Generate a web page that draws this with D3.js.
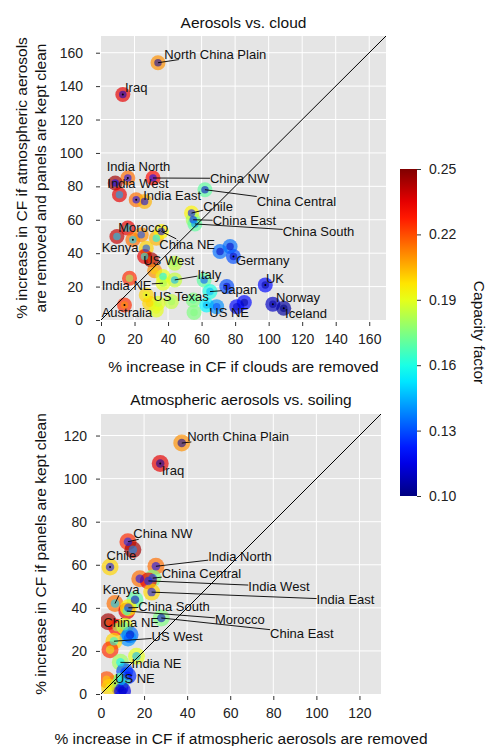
<!DOCTYPE html>
<html>
<head>
<meta charset="utf-8">
<script src="https://cdn.jsdelivr.net/npm/d3@7"></script>
<style>
  body { margin: 0; background: #fff; }
  svg { font-family: "Liberation Sans", Arial, Helvetica, sans-serif; }
</style>
</head>
<body>
<svg id="chart" width="490" height="746"></svg>
<script>
// points: [name, x, y, outer CF, inner CF]
const cloudPts = [
  ["North China Plain", 34, 154, 0.21, 0.105],
  ["Iraq", 13, 135, 0.235, 0.11],
  ["India North", 16, 85, 0.215, 0.12],
  ["China NW", 31, 85, 0.23, 0.12],
  ["India West", 8.5, 82, 0.245, 0.12],
  ["", 11, 75, 0.235, 0.145],
  ["India East", 21, 72, 0.215, 0.12],
  ["", 26, 71, 0.205, 0.115],
  ["China Central", 62, 78, 0.17, 0.11],
  ["Chile", 54, 64, 0.195, 0.12],
  ["China East", 55, 60, 0.18, 0.12],
  ["China South", 56, 57.5, 0.17, 0.14],
  ["Morocco", 16, 55, 0.235, 0.155],
  ["", 9.5, 50, 0.24, 0.15],
  ["Kenya", 19, 48, 0.215, 0.15],
  ["", 24, 51, 0.21, 0.13],
  ["", 33, 49, 0.205, 0.155],
  ["China NE", 36, 53, 0.195, 0.115],
  ["", 27, 43, 0.2, 0.13],
  ["", 26, 38, 0.235, 0.16],
  ["US West", 30, 36, 0.245, 0.22],
  ["", 44, 34, 0.185, 0.18],
  ["", 32, 29.5, 0.21, 0.2],
  ["", 37, 26, 0.19, 0.155],
  ["Italy", 44, 24, 0.185, 0.145],
  ["India NE", 37, 22, 0.19, 0.18],
  ["", 17, 25, 0.225, 0.18],
  ["", 61.5, 24, 0.17, 0.13],
  ["Japan", 65, 17, 0.16, 0.145],
  ["", 75, 20, 0.13, 0.11],
  ["", 85.5, 10.5, 0.12, 0.105],
  ["", 81, 8, 0.12, 0.11],
  ["US NE", 63, 9, 0.155, 0.145],
  ["", 69, 8, 0.14, 0.13],
  ["UK", 98, 21, 0.12, 0.105],
  ["Norway", 102.5, 9.5, 0.11, 0.105],
  ["Iceland", 109, 7, 0.105, 0.10],
  ["", 71, 41, 0.135, 0.11],
  ["", 77, 44, 0.135, 0.11],
  ["Germany", 79, 38, 0.13, 0.11],
  ["US Texas", 27, 15, 0.2, 0.19],
  ["", 29, 10, 0.2, 0.2],
  ["", 34, 10, 0.19, 0.185],
  ["", 42, 11, 0.185, 0.18],
  ["", 55, 12, 0.175, 0.17],
  ["", 55.5, 4.5, 0.175, 0.175],
  ["", 33, 6, 0.19, 0.19],
  ["Australia", 14, 9, 0.225, 0.21]
];

// label text positions in data units: [name, left x, middle y]
const cloudLabels = [
  ["North China Plain", 37.8, 159.2], ["Iraq", 14.3, 139.2],
  ["India North", 3.4, 92], ["China NW", 65, 84.8],
  ["India West", 3.8, 81.8], ["India East", 25.2, 74.6],
  ["China Central", 92.9, 70.8], ["Chile", 61, 68],
  ["China East", 66.6, 59.3], ["China South", 108.4, 52.9],
  ["Morocco", 10.3, 55.5], ["Kenya", 0.4, 43.3],
  ["China NE", 34.8, 45.3], ["Germany", 80.5, 35.9],
  ["US West", 25.2, 35.9], ["Italy", 57.5, 27.5],
  ["UK", 98.4, 24.9], ["India NE", 0.4, 20.9],
  ["Japan", 72, 18.4], ["Norway", 104.4, 13.6],
  ["US Texas", 31.2, 14], ["US NE", 64.6, 4.4],
  ["Iceland", 109.8, 4], ["Australia", 0.4, 4.6]
];

const soilPts = [
  ["North China Plain", 37.5, 116.5, 0.21, 0.105],
  ["Iraq", 27.5, 107, 0.235, 0.105],
  ["China NW", 12.5, 70.7, 0.225, 0.125],
  ["", 14.8, 67, 0.245, 0.14],
  ["Chile", 4.2, 59, 0.2, 0.12],
  ["India North", 25.5, 59.3, 0.215, 0.12],
  ["", 18, 53.5, 0.215, 0.12],
  ["China Central", 24, 53.8, 0.175, 0.13],
  ["India West", 22, 52.5, 0.235, 0.125],
  ["India East", 23.5, 47.3, 0.2, 0.12],
  ["Kenya", 6.5, 42, 0.215, 0.15],
  ["", 15.8, 43.8, 0.17, 0.11],
  ["Morocco", 12, 38.5, 0.235, 0.16],
  ["China South", 12.7, 40, 0.195, 0.125],
  ["China East", 28, 35.3, 0.175, 0.11],
  ["China NE", 3.4, 33.5, 0.245, 0.22],
  ["", 7.3, 31, 0.23, 0.18],
  ["", 11, 31.4, 0.19, 0.17],
  ["", 13.5, 27.5, 0.135, 0.11],
  ["", 12.5, 26, 0.14, 0.13],
  ["US West", 6, 24.5, 0.2, 0.16],
  ["", 4.2, 20.5, 0.225, 0.19],
  ["", 16.5, 17.5, 0.19, 0.145],
  ["India NE", 9, 14.7, 0.18, 0.155],
  ["", 11, 10.5, 0.13, 0.13],
  ["", 12.5, 8.5, 0.125, 0.12],
  ["US NE", 6.5, 5, 0.19, 0.18],
  ["", 2.6, 6.6, 0.22, 0.2],
  ["", 8.8, 2.8, 0.12, 0.115],
  ["", 9.5, 6, 0.17, 0.15],
  ["", 4, 3, 0.2, 0.19],
  ["", 10, 1.5, 0.115, 0.11]
];

const soilLabels = [
  ["North China Plain", 40, 119.6], ["Iraq", 28.2, 104],
  ["China NW", 15, 74.4], ["Chile", 2.6, 64.2],
  ["India North", 49.8, 63.9], ["China Central", 28.2, 56.2],
  ["India West", 68.4, 50], ["India East", 100.1, 43.8],
  ["Kenya", 0.8, 48.4], ["China South", 17.3, 40.7],
  ["Morocco", 52.9, 34.5], ["China East", 78.5, 28.3],
  ["China NE", 1.1, 33], ["US West", 23.5, 26.7],
  ["India NE", 14.2, 14.4], ["US NE", 6.5, 7]
];

const cloudTicks = [0, 20, 40, 60, 80, 100, 120, 140, 160];
const soilTicks = [0, 20, 40, 60, 80, 100, 120];
const cbTicks = [0.10, 0.13, 0.16, 0.19, 0.22, 0.25];
const cfMin = 0.10, cfMax = 0.25;

const svg = d3.select('#chart');

// matplotlib style jet colormap
function jet(t) {
  t = Math.max(0, Math.min(1, t));
  const c = v => Math.round(255 * Math.max(0, Math.min(1, v)));
  return d3.rgb(c(1.5 - Math.abs(4*t - 3)), c(1.5 - Math.abs(4*t - 2)), c(1.5 - Math.abs(4*t - 1)));
}
const cfColor = cf => jet((cf - cfMin) / (cfMax - cfMin));

function panel(opt) {
  const xs = d3.scaleLinear().domain([0, opt.max]).range([opt.left, opt.right]);
  const ys = d3.scaleLinear().domain([0, opt.max]).range([opt.bottom, opt.top]);
  const g = svg.append('g');

  g.append('rect')
    .attr('x', opt.left).attr('y', opt.top)
    .attr('width', opt.right - opt.left).attr('height', opt.bottom - opt.top)
    .attr('fill', '#e5e5e5');

  // grid
  g.selectAll('.vg').data(opt.ticks.slice(1)).enter().append('line')
    .attr('x1', d => xs(d)).attr('x2', d => xs(d))
    .attr('y1', opt.top).attr('y2', opt.bottom)
    .attr('stroke', '#fff').attr('stroke-width', 1);
  g.selectAll('.hg').data(opt.ticks.slice(1)).enter().append('line')
    .attr('y1', d => ys(d)).attr('y2', d => ys(d))
    .attr('x1', opt.left).attr('x2', opt.right)
    .attr('stroke', '#fff').attr('stroke-width', 1);

  const clipId = 'clip' + opt.top;
  g.append('clipPath').attr('id', clipId).append('rect')
    .attr('x', opt.left).attr('y', opt.top)
    .attr('width', opt.right - opt.left).attr('height', opt.bottom - opt.top);

  // axes with outward ticks
  const xa = d3.axisBottom(xs).tickValues(opt.ticks).tickSize(4).tickPadding(8).tickFormat(d3.format('d'));
  const ya = d3.axisLeft(ys).tickValues(opt.ticks).tickSize(4).tickPadding(opt.ypad).tickFormat(d3.format('d'));
  const gx = g.append('g').attr('transform', `translate(0,${opt.bottom + 2})`).call(xa);
  const gy = g.append('g').attr('transform', `translate(${opt.left - 1},0)`).call(ya);
  [gx, gy].forEach(a => {
    a.select('.domain').remove();
    a.selectAll('line').attr('stroke', '#333');
    a.selectAll('text').attr('font-size', 14).attr('fill', '#222')
      .attr('font-family', '"Liberation Sans", Arial, sans-serif');
  });

  const plot = g.append('g').attr('clip-path', `url(#${clipId})`);

  // points
  plot.selectAll('.outer').data(opt.pts).enter().append('circle')
    .attr('cx', d => xs(d[1])).attr('cy', d => ys(d[2])).attr('r', opt.r)
    .attr('fill', d => cfColor(d[3])).attr('fill-opacity', 0.68);
  plot.selectAll('.inner').data(opt.pts).enter().append('circle')
    .attr('cx', d => xs(d[1])).attr('cy', d => ys(d[2])).attr('r', opt.r * 0.5)
    .attr('fill', d => cfColor(d[4])).attr('fill-opacity', 0.55);

  // 1:1 line
  plot.append('line')
    .attr('x1', xs(0)).attr('y1', ys(0)).attr('x2', xs(opt.max)).attr('y2', ys(opt.max))
    .attr('stroke', '#000').attr('stroke-width', 1);

  // labels and connector lines
  const byName = new Map(opt.pts.filter(p => p[0]).map(p => [p[0], p]));
  const lineG = g.append('g');
  const labG = g.append('g');
  opt.labels.forEach(l => {
    const t = labG.append('text')
      .attr('x', xs(l[1])).attr('y', ys(l[2]))
      .attr('dy', '0.35em')
      .attr('font-size', 13).attr('fill', '#111')
      .text(l[0]);
    const p = byName.get(l[0]);
    if (!p) return;
    const b = t.node().getBBox();
    const cx = b.x + b.width / 2, cy = b.y + b.height / 2;
    const px = xs(p[1]), py = ys(p[2]);
    const dx = px - cx, dy = py - cy;
    const tt = Math.min(dx ? (b.width / 2) / Math.abs(dx) : Infinity,
                        dy ? (b.height / 2 - 2) / Math.abs(dy) : Infinity);
    if (tt >= 1) return;
    const x1 = cx + dx * tt, y1 = cy + dy * tt;
    if (Math.hypot(px - x1, py - y1) < 9) {
      // arrow tip only, as in the original
      lineG.append('circle').attr('cx', px).attr('cy', py).attr('r', 1).attr('fill', '#000');
      return;
    }
    lineG.append('line')
      .attr('x1', x1).attr('y1', y1)
      .attr('x2', px).attr('y2', py)
      .attr('stroke', '#000').attr('stroke-width', 0.9);
  });

  // titles
  const mid = (opt.left + opt.right) / 2;
  g.append('text').attr('x', mid).attr('y', opt.titleY).attr('text-anchor', 'middle')
    .attr('font-size', 15.5).attr('fill', '#111').text(opt.title);
  g.append('text').attr('x', mid).attr('y', opt.xlabY).attr('text-anchor', 'middle')
    .attr('font-size', 15.5).attr('fill', '#111').text(opt.xlab);
  const yl = g.append('text').attr('text-anchor', 'middle')
    .attr('transform', `translate(0,${(opt.top + opt.bottom) / 2}) rotate(-90)`)
    .attr('font-size', 15.5).attr('fill', '#111');
  opt.ylab.forEach((s, i) => {
    yl.append('tspan').attr('x', 0).attr('y', opt.ylabX[i]).attr('dy', '0.35em').text(s);
  });
}

panel({
  left: 101, right: 386, top: 36, bottom: 320, max: 170, ticks: cloudTicks, r: 7.5, ypad: 13,
  pts: cloudPts, labels: cloudLabels,
  title: 'Aerosols vs. cloud', titleY: 28,
  xlab: '% increase in CF if clouds are removed', xlabY: 372,
  ylab: ['% increase in CF if atmospheric aerosols', 'are removed and panels are kept clean'],
  ylabX: [22, 41]
});

panel({
  left: 101, right: 381, top: 414, bottom: 694, max: 130, ticks: soilTicks, r: 8.5, ypad: 9,
  pts: soilPts, labels: soilLabels,
  title: 'Atmospheric aerosols vs. soiling', titleY: 405,
  xlab: '% increase in CF if atmospheric aerosols are removed', xlabY: 744,
  ylab: ['% increase in CF if panels are kept clean'],
  ylabX: [41]
});

// colorbar
const cbX = 400, cbW = 17, cbTop = 169, cbBot = 496;
const grad = svg.append('defs').append('linearGradient')
  .attr('id', 'jetgrad').attr('x1', 0).attr('y1', 1).attr('x2', 0).attr('y2', 0);
d3.range(0, 1.0001, 0.05).forEach(t => {
  grad.append('stop').attr('offset', t).attr('stop-color', jet(t));
});
svg.append('rect').attr('x', cbX).attr('y', cbTop).attr('width', cbW).attr('height', cbBot - cbTop)
  .attr('fill', 'url(#jetgrad)');
const cbs = d3.scaleLinear().domain([cfMin, cfMax]).range([cbBot, cbTop]);
const cba = d3.axisRight(cbs).tickValues(cbTicks).tickSize(4).tickPadding(8).tickFormat(d3.format('.2f'));
const gcb = svg.append('g').attr('transform', `translate(${cbX + cbW},0)`).call(cba);
gcb.select('.domain').remove();
gcb.selectAll('line').attr('stroke', '#333');
gcb.selectAll('text').attr('font-size', 14).attr('fill', '#222')
  .attr('font-family', '"Liberation Sans", Arial, sans-serif');
svg.append('text').attr('text-anchor', 'middle')
  .attr('transform', `translate(479,${(cbTop + cbBot) / 2}) rotate(90)`)
  .attr('dy', '0.35em').attr('font-size', 15.5).attr('fill', '#111')
  .text('Capacity factor');
</script>
</body>
</html>
